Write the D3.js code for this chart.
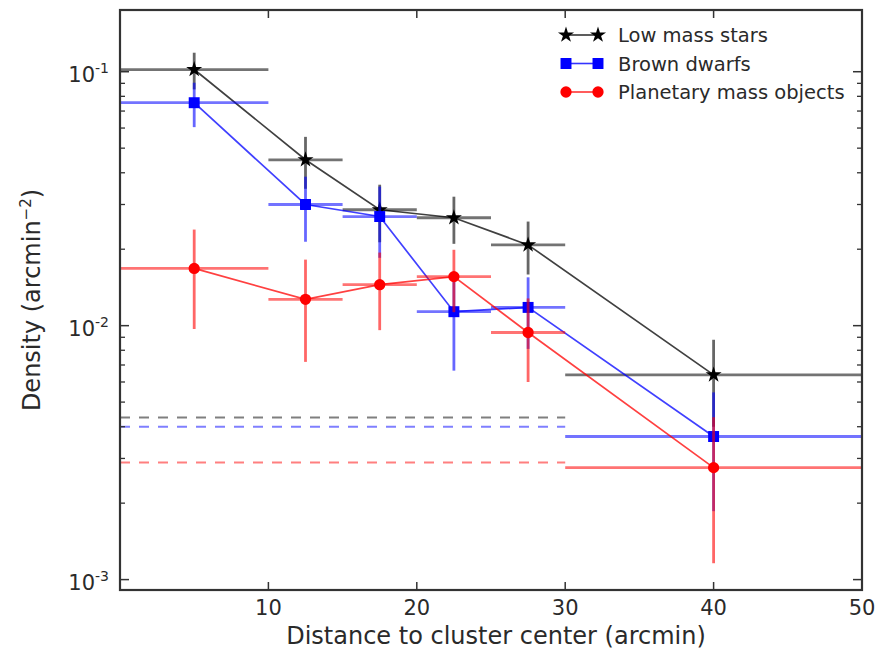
<!DOCTYPE html>
<html>
<head>
<meta charset="utf-8">
<script src="https://cdn.jsdelivr.net/npm/d3@7"></script>
<style>
  body { margin: 0; background: #fff; }
  svg { font-family: "DejaVu Sans", sans-serif; }
</style>
</head>
<body>
<svg id="chart" width="890" height="649"></svg>
<script>
// Radial bins (arcmin): centres and edges
const binCentres = [5, 12.5, 17.5, 22.5, 27.5, 40];
const binLow     = [0, 10, 15, 20, 25, 30];
const binHigh    = [10, 15, 20, 25, 30, 50];

// Surface densities (arcmin^-2) and symmetric uncertainties
const lowMassStars    = [0.102, 0.045, 0.0286, 0.0266, 0.0208, 0.0064];
const lowMassErr      = [0.0168, 0.0104, 0.0073, 0.0056, 0.0049, 0.0024];
const brownDwarfs     = [0.0755, 0.030, 0.0269, 0.01135, 0.0118, 0.00366];
const brownDwarfsErr  = [0.015, 0.0086, 0.0084, 0.0047, 0.0037, 0.0018];
const planetaryMass   = [0.0168, 0.0127, 0.0145, 0.0156, 0.0094, 0.00276];
const planetaryErr    = [0.0071, 0.0055, 0.0049, 0.0043, 0.0034, 0.0016];

// Background density levels (dashed), drawn over the inner 30 arcmin
const backgroundLevels = [0.00435, 0.0040, 0.00289];
const backgroundExtent = [0, 30];

const seriesNames  = ["Low mass stars", "Brown dwarfs", "Planetary mass objects"];
const seriesColors = ["#000000", "#0000ff", "#ff0000"];
const seriesShapes = ["star", "square", "circle"];

const xTicks = [10, 20, 30, 40, 50];
const yMajorTicks = [1e-3, 1e-2, 1e-1];
const yTickExponents = ["-3", "-2", "-1"];

(function draw() {
  const svg = d3.select("#chart");
  const pL = 120, pR = 862, pT = 10, pB = 590;
  const textColor = "#2a2a2a";

  const x = d3.scaleLinear().domain([0, 50]).range([pL, pR]);
  const y = d3.scaleLog().domain([0.00091, 0.175]).range([pB, pT]);

  const defs = svg.append("defs");
  defs.append("clipPath").attr("id", "plotClip")
    .append("rect").attr("x", pL).attr("y", pT)
    .attr("width", pR - pL).attr("height", pB - pT);

  const plot = svg.append("g").attr("clip-path", "url(#plotClip)");

  // Dashed background levels
  plot.selectAll("line.bg").data(backgroundLevels).join("line")
    .attr("class", "bg")
    .attr("x1", x(backgroundExtent[0])).attr("x2", x(backgroundExtent[1]))
    .attr("y1", d => y(d)).attr("y2", d => y(d))
    .attr("stroke", (d, i) => seriesColors[i])
    .attr("stroke-opacity", 0.5)
    .attr("stroke-width", 2)
    .attr("stroke-dasharray", "10,9");

  const allSeries = [
    { values: lowMassStars, err: lowMassErr },
    { values: brownDwarfs, err: brownDwarfsErr },
    { values: planetaryMass, err: planetaryErr }
  ];

  function markerPath(shape) {
    if (shape === "star") return d3.symbol(d3.symbolStar, 80)();
    if (shape === "square") return d3.symbol(d3.symbolSquare, 120)();
    return d3.symbol(d3.symbolCircle, 100)();
  }

  allSeries.forEach((s, si) => {
    const color = seriesColors[si];
    const g = plot.append("g");
    const pts = binCentres.map((c, i) => ({
      c, lo: binLow[i], hi: binHigh[i], v: s.values[i], e: s.err[i]
    }));

    // horizontal (bin width) error bars
    g.selectAll("line.xerr").data(pts).join("line")
      .attr("class", "xerr")
      .attr("x1", d => x(d.lo)).attr("x2", d => x(d.hi))
      .attr("y1", d => y(d.v)).attr("y2", d => y(d.v))
      .attr("stroke", color).attr("stroke-opacity", 0.55)
      .attr("stroke-width", 2.8);

    // vertical error bars
    g.selectAll("line.yerr").data(pts).join("line")
      .attr("class", "yerr")
      .attr("x1", d => x(d.c)).attr("x2", d => x(d.c))
      .attr("y1", d => y(d.v + d.e)).attr("y2", d => y(Math.max(d.v - d.e, 1e-5)))
      .attr("stroke", color).attr("stroke-opacity", 0.6)
      .attr("stroke-width", 2.8);

    // connecting line
    g.append("path").datum(pts)
      .attr("d", d3.line().x(d => x(d.c)).y(d => y(d.v)))
      .attr("fill", "none").attr("stroke", color)
      .attr("stroke-opacity", 0.75).attr("stroke-width", 1.7);

    // markers
    g.selectAll("path.mk").data(pts).join("path")
      .attr("class", "mk")
      .attr("d", markerPath(seriesShapes[si]))
      .attr("transform", d => `translate(${x(d.c)},${y(d.v)})`)
      .attr("fill", color);
  });

  // Frame
  const frameColor = "#333";
  svg.append("rect")
    .attr("x", pL).attr("y", pT)
    .attr("width", pR - pL).attr("height", pB - pT)
    .attr("fill", "none").attr("stroke", frameColor).attr("stroke-width", 2.2);

  // X ticks (inside, bottom and top)
  const xt = svg.append("g");
  xTicks.filter(t => t < 50).forEach(t => {
    xt.append("line").attr("x1", x(t)).attr("x2", x(t))
      .attr("y1", pB).attr("y2", pB - 8)
      .attr("stroke", frameColor).attr("stroke-width", 1.5);
    xt.append("line").attr("x1", x(t)).attr("x2", x(t))
      .attr("y1", pT).attr("y2", pT + 8)
      .attr("stroke", frameColor).attr("stroke-width", 1.5);
  });
  xt.selectAll("text").data(xTicks).join("text")
    .attr("x", d => x(d)).attr("y", 615)
    .attr("text-anchor", "middle")
    .attr("font-size", 21).attr("fill", textColor)
    .text(d => d);

  // Y ticks: log major + minor, on both sides
  const yt = svg.append("g");
  const minorTicks = [];
  [1e-4, 1e-3, 1e-2, 1e-1].forEach(base => {
    for (let k = 2; k <= 9; k++) {
      const v = base * k;
      if (v > y.domain()[0] && v < y.domain()[1]) minorTicks.push(v);
    }
  });
  minorTicks.forEach(v => {
    [[pL, pL + 5], [pR, pR - 5]].forEach(([a, b]) => {
      yt.append("line").attr("x1", a).attr("x2", b)
        .attr("y1", y(v)).attr("y2", y(v))
        .attr("stroke", frameColor).attr("stroke-width", 1.3);
    });
  });
  yMajorTicks.forEach(v => {
    [[pL, pL + 9], [pR, pR - 9]].forEach(([a, b]) => {
      yt.append("line").attr("x1", a).attr("x2", b)
        .attr("y1", y(v)).attr("y2", y(v))
        .attr("stroke", frameColor).attr("stroke-width", 1.5);
    });
  });
  yMajorTicks.forEach((v, i) => {
    const t = yt.append("text")
      .attr("x", 109).attr("y", y(v) + 10)
      .attr("text-anchor", "end")
      .attr("font-size", 21).attr("fill", textColor);
    t.append("tspan").text("10");
    t.append("tspan").attr("dy", -9).attr("font-size", 14).text(yTickExponents[i]);
  });

  // Axis titles
  svg.append("text")
    .attr("x", 496).attr("y", 644)
    .attr("text-anchor", "middle")
    .attr("font-size", 24).attr("fill", textColor)
    .text("Distance to cluster center (arcmin)");

  const yTitle = svg.append("text")
    .attr("transform", `translate(40,300) rotate(-90)`)
    .attr("text-anchor", "middle")
    .attr("font-size", 24).attr("fill", textColor);
  yTitle.append("tspan").text("Density (arcmin");
  yTitle.append("tspan").attr("dy", -9).attr("font-size", 15).text("\u22122");
  yTitle.append("tspan").attr("dy", 9).text(")");

  // Legend
  const legend = svg.append("g");
  seriesNames.forEach((name, i) => {
    const ly = 35 + i * 28.5;
    const color = seriesColors[i];
    legend.append("line").attr("x1", 566).attr("x2", 598)
      .attr("y1", ly).attr("y2", ly)
      .attr("stroke", color).attr("stroke-width", 1.6).attr("stroke-opacity", 0.8);
    [566, 598].forEach(mx => {
      legend.append("path").attr("d", markerPath(seriesShapes[i]))
        .attr("transform", `translate(${mx},${ly})`).attr("fill", color);
    });
    legend.append("text").attr("x", 618).attr("y", ly + 7)
      .attr("font-size", 19.5).attr("fill", textColor).text(name);
  });
})();
</script>
</body>
</html>
